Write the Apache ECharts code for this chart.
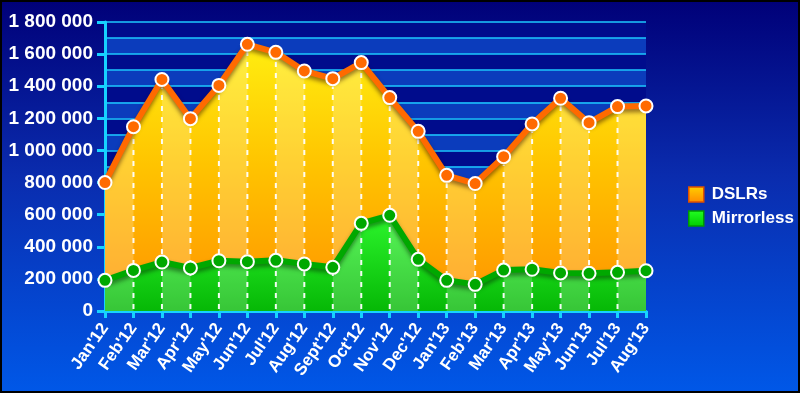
<!DOCTYPE html>
<html>
<head>
<meta charset="utf-8">
<script src="https://cdn.jsdelivr.net/npm/echarts@6/dist/echarts.min.js"></script>
<style>
html,body{margin:0;padding:0;}
#chart{width:800px;height:393px;background:linear-gradient(to bottom,#000078 0%,#0a2cae 45%,#0058e8 100%);}
</style>
</head>
<body>
<div id="chart"></div>
<script>
const categories = ["Jan'12","Feb'12","Mar'12","Apr'12","May'12","Jun'12","Jul'12","Aug'12","Sept'12","Oct'12","Nov'12","Dec'12","Jan'13","Feb'13","Mar'13","Apr'13","May'13","Jun'13","Jul'13","Aug'13"];
const dslrs = [800000,1148000,1442000,1198000,1405000,1661000,1611000,1495000,1447000,1547000,1329000,1119000,845000,794000,961000,1165000,1325000,1173000,1273000,1277000];
const mirrorless = [191000,253000,305000,268000,313000,307000,316000,293000,272000,546000,596000,322000,191000,166000,255000,260000,237000,235000,241000,251000];
const seriesNames = ['DSLRs','Mirrorless'];
const yMax = 1800000;

const chart = echarts.init(document.getElementById('chart'));
const LG = echarts.graphic.LinearGradient;
const cyan = '#16d2ff';
const FONT = 'Liberation Sans, Arial, sans-serif';
const fmt = v => String(v).replace(/\B(?=(\d{3})+(?!\d))/g,' ');

const option = {
  backgroundColor: 'transparent',
  animation: false,
  graphic: [{type:'rect', z:100, shape:{x:1,y:1,width:798,height:391}, style:{fill:null, stroke:'#000', lineWidth:2}}],
  grid: {left:105, right:154, top:22, bottom:82, show:true, backgroundColor:'#000c8c', borderWidth:0},
  legend: {
    orient:'vertical', left:683, top:181, itemWidth:15, itemHeight:15, itemGap:7, icon:'rect',
    textStyle:{color:'#fff', fontSize:17, fontWeight:'bold', fontFamily:FONT, padding:[0,0,0,3]},
    data:[
      {name:seriesNames[0], itemStyle:{color:new LG(0,0,0,1,[{offset:0,color:'#ffd000'},{offset:1,color:'#ff8a00'}]), borderColor:'#e05000', borderWidth:1.5}},
      {name:seriesNames[1], itemStyle:{color:new LG(0,0,0,1,[{offset:0,color:'#22ff22'},{offset:1,color:'#00cc00'}]), borderColor:'#009a00', borderWidth:1.5}}
    ]
  },
  xAxis: {
    type:'category', boundaryGap:false, data:categories,
    axisLine:{lineStyle:{color:cyan, width:3}},
    axisTick:{show:true, length:7, lineStyle:{color:cyan, width:3}},
    axisLabel:{interval:0, rotate:55, margin:14, color:'#fff', fontSize:17, fontWeight:'bold', fontFamily:FONT},
    splitLine:{show:false}
  },
  yAxis: [
    {type:'value', min:0, max:yMax, interval:100000,
     axisLine:{show:false}, axisTick:{show:false}, axisLabel:{show:false},
     splitLine:{show:true, lineStyle:{color:'#1cc8ff', width:1.5}},
     splitArea:{show:true, areaStyle:{color:['#0b3cbc','rgba(0,0,0,0)']}}},
    {type:'value', min:0, max:yMax, interval:200000, position:'left',
     axisLine:{show:true, lineStyle:{color:cyan, width:3}},
     axisTick:{show:true, length:8, lineStyle:{color:cyan, width:3}},
     axisLabel:{margin:12, color:'#fff', fontSize:19, fontWeight:'bold', fontFamily:FONT, formatter:fmt},
     splitLine:{show:false}}
  ],
  series: [
    {name:seriesNames[0], type:'line', z:1, data:dslrs, showSymbol:false, symbol:'none', lineStyle:{width:0},
     areaStyle:{opacity:1, color:new LG(0,0,0,1,[{offset:0,color:'#ffee10'},{offset:0.45,color:'#ffc400'},{offset:1,color:'#ff9200'}])}},
    {name:seriesNames[1], type:'line', z:1, data:mirrorless, showSymbol:false, symbol:'none', lineStyle:{width:0},
     areaStyle:{opacity:1, color:new LG(0,0,0,1,[{offset:0,color:'#2cf52c'},{offset:1,color:'#06b806'}])}},
    {type:'custom', z:2, silent:true, data:dslrs.map((v,i)=>[i,v]),
     renderItem:function(params, api){
       const i = api.value(0);
       const children = [];
       const p0 = api.coord([i,0]);
       const p1 = api.coord([i,dslrs[i]]);
       if (i % 2 === 0 && i < dslrs.length-1) {
         const q0 = api.coord([i+1,0]);
         const q1 = api.coord([i+1,dslrs[i+1]]);
         children.push({type:'polygon', shape:{points:[p0,q0,q1,p1]}, style:{fill:'rgba(255,255,255,0.2)'}});
       }
       if (i > 0 && i < dslrs.length-1) {
         children.push({type:'line', shape:{x1:p0[0],y1:p0[1]-2,x2:p1[0],y2:p1[1]+8}, style:{stroke:'rgba(255,255,255,0.95)', lineWidth:2, lineDash:[5,6]}});
       }
       return {type:'group', children:children};
     }},
    {name:seriesNames[0], type:'line', z:3, data:dslrs, symbol:'circle', symbolSize:13,
     lineStyle:{color:'#ff6a00', width:6, shadowColor:'rgba(40,0,0,0.5)', shadowBlur:4, shadowOffsetY:3},
     itemStyle:{color:'#ff6a00', borderColor:'#fff', borderWidth:2}},
    {name:seriesNames[1], type:'line', z:4, data:mirrorless, symbol:'circle', symbolSize:13,
     lineStyle:{color:'#00a800', width:6, shadowColor:'rgba(0,40,0,0.5)', shadowBlur:4, shadowOffsetY:3},
     itemStyle:{color:'#00a800', borderColor:'#fff', borderWidth:2}}
  ]
};
chart.setOption(option);
</script>
</body>
</html>
